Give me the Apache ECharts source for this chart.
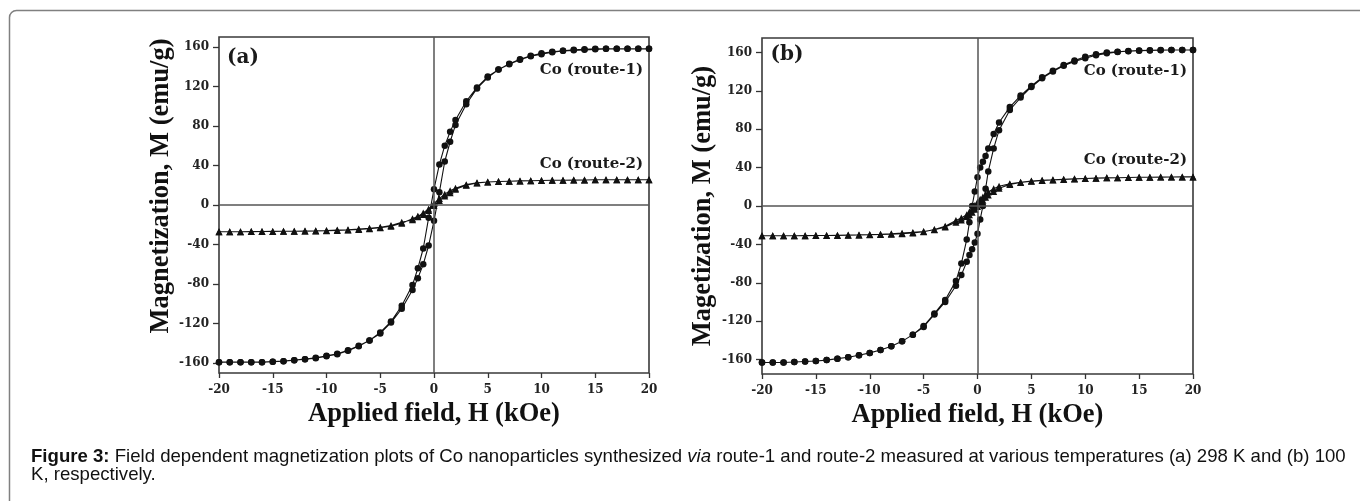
<!DOCTYPE html>
<html><head><meta charset="utf-8">
<script src="https://cdn.jsdelivr.net/npm/echarts@6/dist/echarts.min.js"></script>
<style>html,body{margin:0;padding:0;background:#fff}#c{width:1360px;height:501px}</style>
</head><body><div id="c"></div>
<script>
// ---------- data ----------
const xTicks = [-20, -15, -10, -5, 0, 5, 10, 15, 20];
const yTicks = [-160, -120, -80, -40, 0, 40, 80, 120, 160];

// panel (a), field grid of the descending branch (kOe); ascending branch uses it reversed
const fieldA = [20,19,18,17,16,15,14,13,12,11,10,9,8,7,6,5,4,3,2,1.5,1,0.5,0,-0.5,-1,-1.5,-2,-3,-4,-5,-6,-7,-8,-9,-10,-11,-12,-13,-14,-15,-16,-17,-18,-19,-20];
const a1Down = [158,158,158,158,158,157.5,157,156.5,156,155,153.5,151,147.5,143,137,130,119,105,86,74,60,41,16,-13,-44,-64,-81,-102,-118,-129,-137,-142.5,-147,-150.5,-152.5,-154.5,-156,-157,-158,-158.5,-159,-159,-159,-159,-159];
const a1Up = [-159,-159,-159,-159,-159,-158.5,-158,-157,-156,-155,-153,-151,-147.5,-143,-137,-130,-119,-105,-86,-74,-60,-41,-16,13,44,64,81,102,118,129,137,142.5,147,150.5,152.5,154.5,156,157,157.5,158,158,158,158,158,158];
const a2Down = [25.5,25.5,25.5,25.5,25.5,25.5,25.3,25.2,25,25,24.8,24.6,24.4,24.1,23.8,23.3,22.4,20.6,17,14.5,11,6.5,1.5,-4,-8,-11.5,-14,-18.5,-21.5,-23,-24,-24.8,-25.3,-25.7,-26,-26.2,-26.4,-26.5,-26.6,-26.7,-26.8,-26.9,-27,-27,-27];
const a2Up = [-27,-27,-27,-26.9,-26.8,-26.7,-26.6,-26.5,-26.3,-26.1,-25.8,-25.4,-25,-24.4,-23.6,-22.6,-20.8,-17.5,-15,-12,-9.5,-5.5,-0.5,4.5,9,12.5,16,20,22.2,23.2,23.8,24.1,24.4,24.6,24.8,25,25,25.2,25.3,25.5,25.5,25.5,25.5,25.5,25.5];

// panel (b)
const fieldB = [20,19,18,17,16,15,14,13,12,11,10,9,8,7,6,5,4,3,2,1.5,1,0.75,0.5,0.25,0,-0.25,-0.5,-0.75,-1,-1.5,-2,-3,-4,-5,-6,-7,-8,-9,-10,-11,-12,-13,-14,-15,-16,-17,-18,-19,-20];
const b1Down = [162.5,162.5,162.5,162.3,162,161.7,161.2,160.6,159.8,158,155.5,151.5,147,141,134,125,115,103,87,75,60,52,46,40,30,15,0,-17,-35,-60,-78,-98,-112,-125,-134,-141,-146,-150,-153,-155.5,-157.5,-159,-160.5,-161.5,-162,-162.5,-163,-163,-163];
const b1Up = [-163,-163,-163,-162.5,-162,-161.5,-160.5,-159,-157.5,-155.5,-153,-150,-146,-141,-134,-126,-113,-100,-83,-72,-58,-51,-45,-38,-29,-14,0,18,36,60,79,100,113,124,133,140,146,150.5,154,157,159,160.5,161.5,162,162.3,162.5,162.5,162.5,162.5];
const b2Down = [30.3,30.3,30.2,30.1,30,29.9,29.7,29.5,29.3,29,28.7,28.3,27.8,27.3,26.7,26,24.8,23.2,20.5,18,14.5,12,9.5,7,4,0.5,-3,-6,-9,-12.5,-15,-21,-24.5,-26.8,-28,-28.8,-29.3,-29.7,-30,-30.2,-30.4,-30.6,-30.7,-30.8,-30.9,-31,-31,-31,-31];
const b2Up = [-31,-31,-31,-31,-30.9,-30.8,-30.7,-30.5,-30.3,-30.1,-29.8,-29.4,-28.9,-28.3,-27.5,-26.5,-24.8,-22,-17,-14.5,-11,-9,-6.5,-3.5,-0.5,3,6,9,11.5,15,18.5,22.5,24.5,25.7,26.5,27.2,27.7,28.2,28.6,29,29.3,29.5,29.7,29.9,30,30.1,30.2,30.3,30.3];

const seriesNames = ['Co (route-1)', 'Co (route-2)'];
const panelTags = ['(a)', '(b)'];
const yTitles = ['Magnetization, M (emu/g)', 'Magetization, M (emu/g)'];
const xTitle = 'Applied field, H (kOe)';
const captionLine1 = ['Figure 3:', ' Field dependent magnetization plots of Co nanoparticles synthesized ', 'via', ' route-1 and route-2 measured at various temperatures (a) 298 K and (b) 100'];
const captionLine2 = 'K, respectively.';

// ---------- build ----------
function loop(field, down, up) {
  const rev = field.slice().reverse();
  return down.map((m, i) => [field[i], m]).concat(up.map((m, i) => [rev[i], m]));
}
const serif = 'Liberation Serif';
const tickFont = 'DejaVu Serif';

function xAx(gi) {
  return {
    type: 'value', gridIndex: gi, min: -20, max: 20, interval: 5,
    axisLine: { show: false, onZero: false },
    axisTick: { show: true, inside: false, length: 5, lineStyle: { color: '#333', width: 1.3 } },
    axisLabel: { margin: 11, color: '#222', fontFamily: tickFont, fontWeight: 'bold', fontSize: 12 },
    splitLine: { show: false },
    name: xTitle, nameLocation: 'middle', nameGap: 28,
    nameTextStyle: { fontFamily: serif, fontWeight: 'bold', fontSize: 26.5, color: '#111', lineHeight: 26 }
  };
}
function yAx(gi, lim, gap, pad) {
  return {
    type: 'value', gridIndex: gi, min: -lim, max: lim,
    axisLine: { show: false, onZero: false },
    axisTick: { show: true, inside: false, length: 6, customValues: yTicks, lineStyle: { color: '#333', width: 1.3 } },
    axisLabel: { margin: 10, color: '#222', fontFamily: tickFont, fontWeight: 'bold', fontSize: 12, customValues: yTicks },
    splitLine: { show: false },
    name: yTitles[gi], nameLocation: 'middle', nameGap: gap,
    nameTextStyle: { fontFamily: serif, fontWeight: 'bold', fontSize: 26.5, color: '#111', lineHeight: 26, padding: pad }
  };
}
const zeroLines = {
  silent: true, symbol: ['none', 'none'], animation: false,
  label: { show: false },
  lineStyle: { color: '#555', width: 1.5, type: 'solid' },
  data: [{ xAxis: 0 }, { yAxis: 0 }]
};
function ser(name, gi, data, symbol, withZero) {
  const s = {
    name, type: 'line', xAxisIndex: gi, yAxisIndex: gi, data,
    symbol, symbolSize: symbol === 'triangle' ? 7 : 6.5, showAllSymbol: true,
    lineStyle: { color: '#111', width: 1.1 },
    itemStyle: { color: '#111' },
    animation: false, z: 3
  };
  if (withZero) s.markLine = zeroLines;
  return s;
}
const txt = (text, x, y, size, align) => ({
  type: 'text', x, y, z: 10,
  style: { text, fontFamily: tickFont, fontWeight: 'bold', fontSize: size, fill: '#1a1a1a', align: align || 'center', verticalAlign: 'middle' }
});
const capSize = 18.6;

const option = {
  backgroundColor: '#fff',
  animation: false,
  grid: [
    { left: 219, right: 711, top: 37, bottom: 128, show: true, borderColor: '#3a3a3a', borderWidth: 1.6, containLabel: false },
    { left: 762, right: 167, top: 38, bottom: 127, show: true, borderColor: '#3a3a3a', borderWidth: 1.6, containLabel: false }
  ],
  xAxis: [xAx(0), xAx(1)],
  yAxis: [yAx(0, 170, 42, [0, 0, 0, 38]), yAx(1, 175, 46, 0)],
  series: [
    ser(seriesNames[0], 0, loop(fieldA, a1Down, a1Up), 'circle', true),
    ser(seriesNames[1], 0, loop(fieldA, a2Down, a2Up), 'triangle', false),
    ser(seriesNames[0], 1, loop(fieldB, b1Down, b1Up), 'circle', true),
    ser(seriesNames[1], 1, loop(fieldB, b2Down, b2Up), 'triangle', false)
  ],
  graphic: [
    { type: 'rect', z: 0, silent: true, shape: { x: 9.5, y: 10.5, width: 1400, height: 600, r: 7 }, style: { fill: 'none', stroke: '#808080', lineWidth: 1.5 } },
    txt(panelTags[0], 243, 58, 20),
    txt(panelTags[1], 787, 55, 20),
    txt(seriesNames[0], 643, 70, 15, 'right'),
    txt(seriesNames[1], 643, 164, 15, 'right'),
    txt(seriesNames[0], 1187, 71.5, 15, 'right'),
    txt(seriesNames[1], 1187, 160.5, 15, 'right'),
    {
      type: 'text', x: 31, y: 466, z: 10,
      style: {
        text: '{b|' + captionLine1[0] + '}' + captionLine1[1] + '{i|' + captionLine1[2] + '}' + captionLine1[3],
        fontFamily: 'Liberation Sans', fontSize: capSize, fill: '#111', align: 'left', verticalAlign: 'bottom',
        rich: {
          b: { fontFamily: 'Liberation Sans', fontWeight: 'bold', fontSize: capSize, fill: '#111' },
          i: { fontFamily: 'Liberation Sans', fontStyle: 'italic', fontSize: capSize, fill: '#111' }
        }
      }
    },
    {
      type: 'text', x: 31, y: 484, z: 10,
      style: { text: captionLine2, fontFamily: 'Liberation Sans', fontSize: capSize, fill: '#111', align: 'left', verticalAlign: 'bottom' }
    }
  ]
};
const chart = echarts.init(document.getElementById('c'), null, { renderer: 'canvas' });
chart.setOption(option);
</script></body></html>
